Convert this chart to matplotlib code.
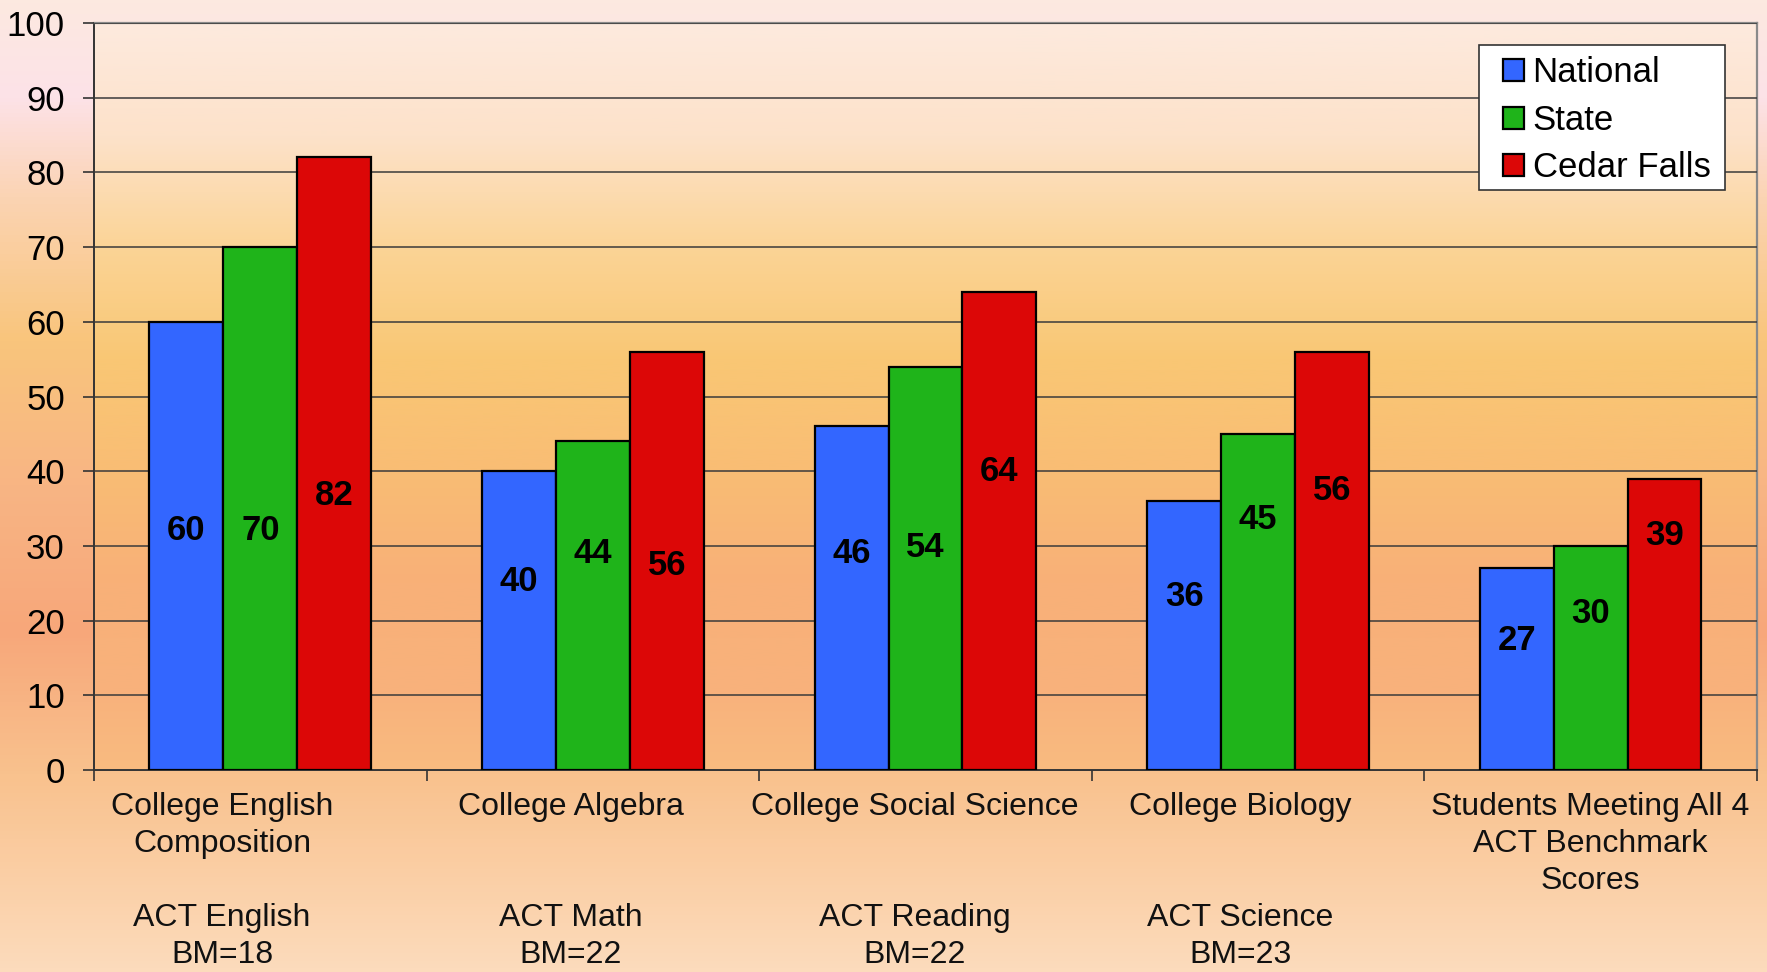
import numpy as np
import matplotlib
matplotlib.use("Agg")
import matplotlib.pyplot as plt
from matplotlib.colors import LinearSegmentedColormap
from matplotlib.patches import Rectangle
import matplotlib.transforms as mtransforms

plt.rcParams['font.family'] = ['Liberation Sans', 'DejaVu Sans']

# data
categories = [
    "College English\nComposition\n\nACT English\nBM=18",
    "College Algebra\n\n\nACT Math\nBM=22",
    "College Social Science\n\n\nACT Reading\nBM=22",
    "College Biology\n\n\nACT Science\nBM=23",
    "Students Meeting All 4\nACT Benchmark\nScores",
]
series_names = ["National", "State", "Cedar Falls"]
national = [60, 40, 46, 36, 27]
state = [70, 44, 54, 45, 30]
cedar_falls = [82, 56, 64, 56, 39]
y_ticks = list(range(0, 101, 10))

# where the value labels sit inside the bars (data units)
label_y_national = [32.0, 25.3, 29.0, 23.2, 17.4]
label_y_state = [32.0, 29.0, 29.8, 33.5, 21.0]
label_y_cedar = [36.8, 27.4, 40.0, 37.4, 31.4]
# small horizontal shifts of the category labels (category units)
cat_label_shift = [-0.115, -0.066, -0.032, -0.054, 0.0]

colors = ["#3366ff", "#1fb41a", "#dc0707"]

fig = plt.figure(figsize=(17.67, 9.72), dpi=100)

# figure background gradient
bg = fig.add_axes([0, 0, 1, 1], zorder=-10)
bg_cmap = LinearSegmentedColormap.from_list("bg", [
    (0.0, "#fce9e0"), (0.1, "#fde2e8"), (0.2, "#fbd4b4"), (0.35, "#f9c57c"),
    (0.5, "#f8b584"), (0.65, "#f7a77a"), (0.8, "#f9c28e"), (1.0, "#fcdbbc")])
bg.imshow(np.linspace(0, 1, 256).reshape(-1, 1), aspect="auto", cmap=bg_cmap,
          extent=[0, 1, 1, 0])
bg.set_xlim(0, 1)
bg.set_ylim(1, 0)
bg.axis("off")

ax = fig.add_axes([0.0532, 0.2078, 0.9411, 0.7685])
ax.set_facecolor("none")
ax_cmap = LinearSegmentedColormap.from_list("plot", [
    (0.0, "#fdeade"), (0.15, "#fde2ca"), (0.3, "#fbd496"), (0.45, "#f9c774"),
    (0.6, "#f9bd74"), (0.75, "#f8b078"), (0.9, "#f8b27c"), (1.0, "#f9bb80")])
ax.imshow(np.linspace(0, 1, 256).reshape(-1, 1), aspect="auto", cmap=ax_cmap,
          extent=[0, 1, 0, 1], transform=ax.transAxes, zorder=0)

x = np.arange(len(categories))
width = 0.2222
all_series = [national, state, cedar_falls]
all_label_y = [label_y_national, label_y_state, label_y_cedar]

for i, (vals, name, col, ly) in enumerate(zip(all_series, series_names, colors, all_label_y)):
    pos = x + (i - 1) * width
    ax.bar(pos, vals, width=width, color=col, edgecolor="black", linewidth=1.6,
           label=name, zorder=3)
    for px, v, yy in zip(pos, vals, ly):
        ax.text(px, yy, str(v), ha="center", va="center", fontsize=25,
                fontweight="bold", color="black", zorder=4)

ax.set_xlim(-0.5, len(categories) - 0.5)
ax.set_ylim(0, 100)
ax.set_yticks(y_ticks)
ax.tick_params(axis="y", labelsize=25, length=8, width=1.2, color="#333333", pad=13)
ax.yaxis.grid(True, color="#3a3a3a", linewidth=1.1, zorder=1)
ax.set_axisbelow(False)
for line in ax.get_ygridlines():
    line.set_zorder(1)

ax.set_xticks([])
ax.set_xticks(np.arange(-0.5, len(categories), 1), minor=True)
ax.tick_params(axis="x", which="minor", length=8, width=1.2, color="#333333", direction="out")

trans = mtransforms.blended_transform_factory(ax.transData, ax.transAxes)
for xi, lab, sh in zip(x, categories, cat_label_shift):
    ax.text(xi + sh, -0.03, lab, transform=trans, ha="center", va="top",
            fontsize=23, linespacing=1.3, color="#111111")

for side in ["left", "bottom"]:
    ax.spines[side].set_color("#333333")
    ax.spines[side].set_linewidth(1.4)
for side in ["top", "right"]:
    ax.spines[side].set_color("#8a8a8a")
    ax.spines[side].set_linewidth(1.6)

# legend box drawn separately so the side padding can be wider than the top/bottom
legend_box = Rectangle((0.8328, 0.7764), 0.148, 0.1941, transform=ax.transAxes,
                       facecolor="white", edgecolor="#333333", linewidth=1.2, zorder=5)
ax.add_patch(legend_box)
leg = ax.legend(loc="upper left", bbox_to_anchor=(0.8473, 0.9555), borderaxespad=0,
                fontsize=25, frameon=False,
                handlelength=0.6, handleheight=0.6, handletextpad=0.25,
                labelspacing=0.42, borderpad=0)
leg.set_zorder(6)

fig.savefig("out.png", dpi=100)
